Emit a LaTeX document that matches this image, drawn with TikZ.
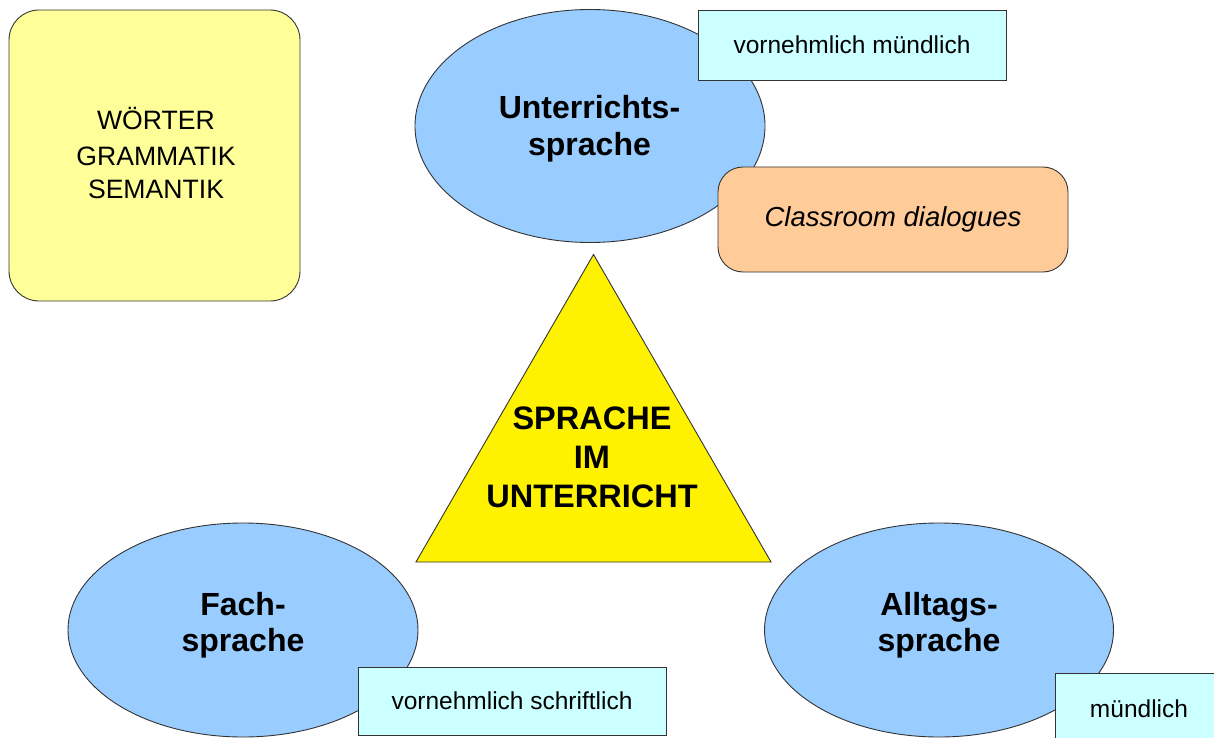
\documentclass[tikz,border=0pt]{standalone}
\usepackage{fontspec}
\setmainfont{Liberation Sans}
\usetikzlibrary{shapes.geometric}
\definecolor{boxyellow}{HTML}{FFFF99}
\definecolor{ellblue}{HTML}{99CCFF}
\definecolor{boxcyan}{HTML}{CCFFFF}
\definecolor{boxorange}{HTML}{FFCC99}
\definecolor{edge}{HTML}{333333}
\tikzset{
  base/.style={draw=edge, line width=0.9pt, inner sep=0pt, outer sep=0pt, align=center},
  ell/.style={base, ellipse, fill=ellblue},
  elltext/.style={anchor=base, inner sep=0pt, font=\fontsize{32}{38}\selectfont\bfseries},
  wtext/.style={anchor=base, inner sep=0pt, font=\fontsize{26.6}{34}\selectfont},
  note/.style={base, rectangle, fill=boxcyan, font=\fontsize{24.5}{29}\selectfont},
}
\begin{document}
\begin{tikzpicture}[x=1pt, y=-1pt]
\useasboundingbox (0,0) rectangle (1214,738);
\fill[white] (0,0) rectangle (1214,738);
% top-left box
\node[base, rectangle, rounded corners=30pt, fill=boxyellow, minimum width=291pt, minimum height=291pt] (wort) at (154.5,155.5) {};
\node[wtext] (w1) at (156,130) {WÖRTER};
\node[wtext] (w2) at (156,165) {GRAMMATIK};
\node[wtext] (w3) at (156,198) {SEMANTIK};
% top ellipse
\node[ell, minimum width=350pt, minimum height=233pt] (unt) at (590,126) {};
\node[elltext] (unt1) at (589.5,119) {Unterrichts-};
\node[elltext] (unt2) at (589.5,156) {sprache};
\node[note, minimum width=308pt, minimum height=70pt] (vm) at (852,45) {vornehmlich mündlich};
\node[base, rectangle, rounded corners=25pt, fill=boxorange, minimum width=350pt, minimum height=105pt,
      font=\fontsize{27.5}{33}\selectfont\itshape] (cd) at (893,219.5) {Classroom dialogues};
% triangle
\node[base, regular polygon, regular polygon sides=3, minimum size=410pt, fill=yellow] (tri) at (593.5,459.5) {};
\node[align=center, font=\fontsize{32.5}{39}\selectfont\bfseries] (spr) at (592,457) {SPRACHE\\IM\\UNTERRICHT};
% bottom left
\node[ell, minimum width=350pt, minimum height=214pt] (fach) at (243,630) {};
\node[elltext] (fach1) at (243,615) {Fach-};
\node[elltext] (fach2) at (243,651) {sprache};
\node[note, minimum width=308pt, minimum height=68pt] (vs) at (512,701) {vornehmlich schriftlich};
% bottom right
\node[ell, minimum width=349pt, minimum height=214pt] (all) at (939,630) {};
\node[elltext] (all1) at (939,615) {Alltags-};
\node[elltext] (all2) at (939,651) {sprache};
\node[note, minimum width=168pt, minimum height=72pt, text depth=0pt] (mu) at (1139,709) {mündlich};
\end{tikzpicture}
\end{document}
